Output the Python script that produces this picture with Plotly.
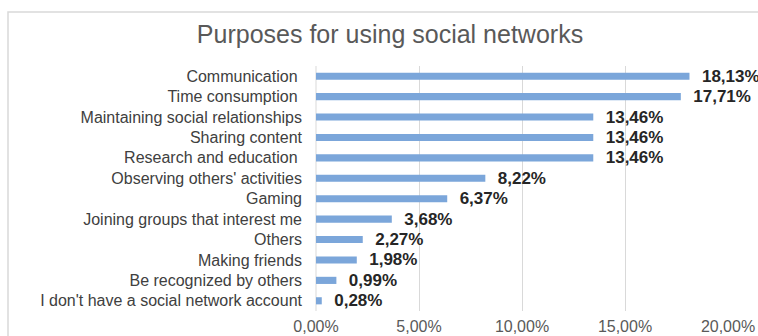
import plotly.graph_objects as go

categories = [
    "Communication", "Time consumption", "Maintaining social relationships",
    "Sharing content", "Research and education", "Observing others' activities",
    "Gaming", "Joining groups that interest me", "Others", "Making friends",
    "Be recognized by others", "I don't have a social network account",
]
values = [18.13, 17.71, 13.46, 13.46, 13.46, 8.22, 6.37, 3.68, 2.27, 1.98, 0.99, 0.28]
tick_vals = [0, 5, 10, 15, 20]
tick_text = ["0,00%", "5,00%", "10,00%", "15,00%", "20,00%"]
# labels that carry a trailing space in the original
trailing_space = {"Communication", "Time consumption", "Research and education"}

labels = ["\u00a0\u00a0" + f"{v:.2f}".replace(".", ",") + "%" for v in values]
y_ticktext = [c + "\u00a0" if c in trailing_space else c for c in categories]

FONT = "Liberation Sans, Arial, sans-serif"

fig = go.Figure(go.Bar(
    x=values, y=categories, orientation="h",
    marker=dict(color="#7ba6da", line=dict(width=0)),
    width=0.35,
    text=labels, textposition="outside", cliponaxis=False, constraintext="none",
    textfont=dict(family=FONT, size=17, color="#262626", weight="bold"),
    hoverinfo="skip",
))

fig.update_layout(
    width=758, height=336,
    margin=dict(l=316, r=30, t=66, b=25),
    paper_bgcolor="white", plot_bgcolor="white",
    showlegend=False,
    title=dict(text="Purposes for using social networks", x=390 / 758, xanchor="center",
               y=1 - 34 / 336, yanchor="middle",
               font=dict(family=FONT, size=25, color="#595959")),
    xaxis=dict(range=[0, 20], tickvals=tick_vals, ticktext=tick_text,
               showgrid=True, gridcolor="#d9d9d9", gridwidth=1, zeroline=False,
               showline=False, ticks="", automargin=False, ticklabelstandoff=4,
               tickfont=dict(family=FONT, size=16, color="#595959")),
    yaxis=dict(categoryorder="array", categoryarray=categories[::-1],
               tickvals=categories, ticktext=y_ticktext,
               automargin=False, showgrid=False, zeroline=False,
               showline=False, ticks="", ticklabelstandoff=13,
               tickfont=dict(family=FONT, size=16, color="#404040")),
    shapes=[
        dict(type="rect", xref="paper", yref="paper",
             x0=-308 / 412, x1=1.2, y0=-0.2, y1=1 + 54 / 245,
             line=dict(color="#d9d9d9", width=1.5), fillcolor="rgba(0,0,0,0)", layer="below"),
        dict(type="line", xref="paper", yref="paper",
             x0=0, x1=0, y0=0, y1=1,
             line=dict(color="#d9d9d9", width=1), layer="below"),
    ],
)

fig.write_html("out.html")
